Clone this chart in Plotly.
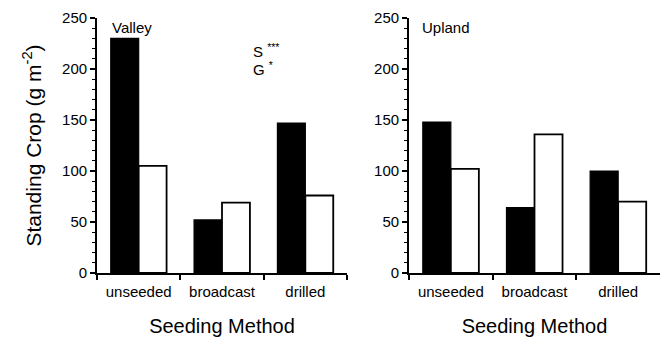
import plotly.graph_objects as go

categories = ["unseeded", "broadcast", "drilled"]
valley_dark = [230, 52, 147]
valley_light = [105, 69, 76]
upland_dark = [148, 64, 100]
upland_light = [102, 136, 70]
y_ticks = [0, 50, 100, 150, 200, 250]

W, H = 660, 341
FONT = "Liberation Sans, Arial, sans-serif"
plot_top, plot_bot = 18, H - 68

fig = go.Figure()

def add_panel(dark, light, xa, ya):
    fig.add_trace(go.Bar(x=categories, y=dark, marker=dict(color="black", line=dict(color="black", width=1.2)),
                         xaxis=xa, yaxis=ya, showlegend=False))
    fig.add_trace(go.Bar(x=categories, y=light, marker=dict(color="white", line=dict(color="black", width=1.8)),
                         xaxis=xa, yaxis=ya, showlegend=False))

add_panel(valley_dark, valley_light, "x", "y")
add_panel(upland_dark, upland_light, "x2", "y2")

def xaxis(domain, anchor):
    return dict(domain=domain, anchor=anchor, showline=True, linecolor="black", linewidth=1.8,
                ticks="outside", tickson="boundaries", ticklen=5, tickwidth=1.5, tickcolor="black",
                tickfont=dict(family=FONT, size=15, color="black"), ticklabelstandoff=4,
                title=dict(text="Seeding Method", font=dict(family=FONT, size=20, color="black"), standoff=20),
                showgrid=False, zeroline=False, fixedrange=True)

def yaxis(anchor, title=None):
    d = dict(anchor=anchor, domain=[0, 1], range=[0, 250], tickvals=y_ticks, showline=True, linecolor="black",
             linewidth=1.8, ticks="outside", ticklen=5, tickwidth=1.5, tickcolor="black",
             minor=dict(dtick=10, ticks="outside", ticklen=3, tickwidth=1, tickcolor="black"),
             tickfont=dict(family=FONT, size=15, color="black"), showgrid=False, zeroline=False, fixedrange=True)
    if title:
        d["title"] = dict(text=title, font=dict(family=FONT, size=21, color="black"), standoff=15)
    return d

def ann(text, px, py):
    return dict(text=text, x=px / W, y=(plot_bot - py) / (plot_bot - plot_top), xref="paper", yref="paper",
                showarrow=False, xanchor="left", yanchor="middle",
                font=dict(family=FONT, size=15, color="black"))

fig.update_layout(
    width=W, height=H,
    margin=dict(l=0, r=0, t=plot_top, b=H - plot_bot),
    paper_bgcolor="white", plot_bgcolor="white",
    barmode="group", bargap=0.33, bargroupgap=0,
    xaxis=xaxis([97 / W, 347 / W], "y"),
    xaxis2=xaxis([409 / W, 1.0], "y2"),
    yaxis=yaxis("x", "Standing Crop (g m<sup>-2</sup>)"),
    yaxis2=yaxis("x2"),
    annotations=[
        ann("Valley", 110, 28),
        ann("Upland", 420, 28),
        ann("S <sup>***</sup>", 251, 51),
        ann("G <sup>*</sup>", 251, 69),
    ],
)

fig.write_html("out.html")
